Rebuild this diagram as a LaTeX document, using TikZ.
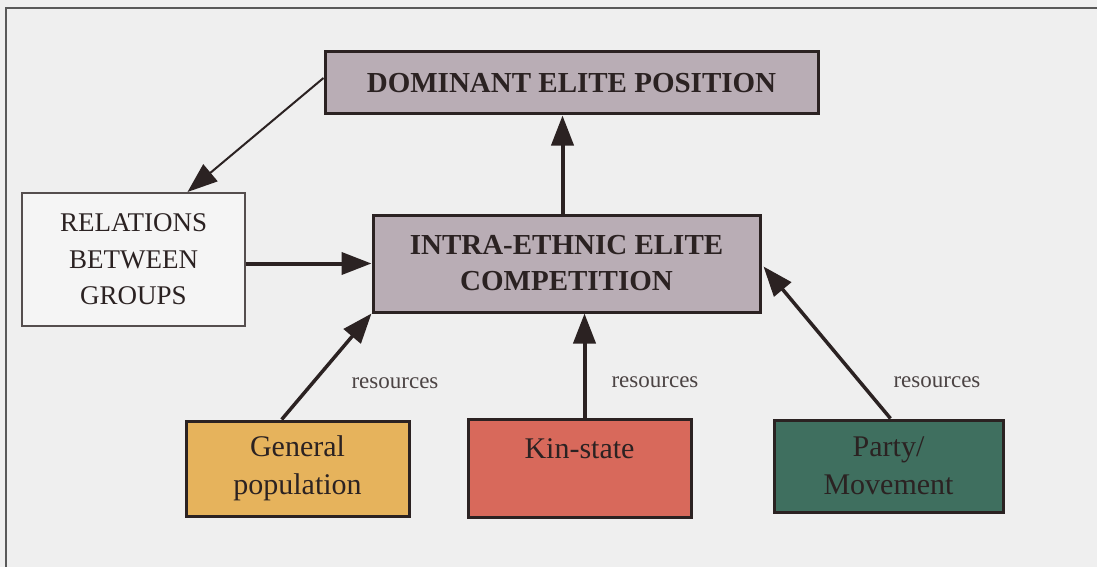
\documentclass[tikz,border=0pt]{standalone}
\usepackage{fontspec}
\setmainfont{Liberation Serif}
\usetikzlibrary{arrows.meta,calc}

\definecolor{bgpaper}{HTML}{EFEFEF}
\definecolor{elitefill}{HTML}{B9ADB5}
\definecolor{relfill}{HTML}{F5F5F5}
\definecolor{popfill}{HTML}{E6B35C}
\definecolor{kinfill}{HTML}{D8695B}
\definecolor{partyfill}{HTML}{3F6F5F}
\definecolor{edge}{HTML}{2B2222}

\begin{document}
\begin{tikzpicture}[x=1pt, y=-1pt,
    elitebox/.style={draw=edge, line width=3pt, fill=elitefill, inner sep=0pt, align=center,
        font=\fontsize{29}{36}\selectfont\bfseries, text=edge},
    srcbox/.style={draw=edge, line width=3pt, inner sep=0pt, align=center,
        font=\fontsize{30}{38}\selectfont, text=edge},
    flow/.style={draw=edge, line width=4pt, -{Triangle[length=30pt,width=22pt]}},
    reslabel/.style={font=\fontsize{23}{27}\selectfont, text=edge!85}]
    % paper and frame
    \fill[bgpaper] (0,0) rectangle (1097,567);
    \useasboundingbox (0,0) rectangle (1097,567);
    \draw[gray!70!black, line width=1.5pt] (6,567) -- (6,8) -- (1097,8);

    % central boxes
    \node[elitebox, minimum width=493, minimum height=62] (dom) at (571.5,83) {DOMINANT ELITE POSITION};
    \node[elitebox, minimum width=387, minimum height=97] (intra) at (566.5,263.5) {INTRA-ETHNIC ELITE\\COMPETITION};
    \node[draw=edge!80, line width=2pt, fill=relfill, inner sep=0pt, align=center, text=edge,
        font=\fontsize{27}{36.5}\selectfont, minimum width=223, minimum height=133] (rel) at (133.5,259.5)
        {RELATIONS\\BETWEEN\\GROUPS};

    % resource boxes
    \node[srcbox, fill=popfill, minimum width=223, minimum height=95] (gen) at (297.5,468.5) {General\\population};
    \node[srcbox, fill=kinfill, minimum width=223, minimum height=98] (kin) at (579.5,468) {Kin-state\\\mbox{}};
    \node[srcbox, fill=partyfill, minimum width=229, minimum height=92] (party) at (888.5,466) {Party/\\Movement};

    % arrows
    \coordinate (kintop) at ($(kin.north)+(5,0)$);
    \draw[flow, line width=2pt] ($(dom.west)+(0,-5)$) -- ($(rel.north west)!0.74!(rel.north east)$);
    \draw[flow] ($(intra.north)+(-4,0)$) -- ($(dom.south)+(-9,0)$);
    \draw[flow] (rel.east |- intra.west) -- (intra.west);
    \draw[flow, line width=3.5pt] ($(gen.north west)!0.43!(gen.north east)$) -- (intra.south west);
    \draw[flow] (kintop) -- (kintop |- intra.south);
    \draw[flow, line width=3.5pt] ($(party.north)+(2,0)$) -- ($(intra.east)+(2,3)$);

    % labels
    \node[reslabel] (res1) at (395,383) {resources};
    \node[reslabel] (res2) at (655,382) {resources};
    \node[reslabel] (res3) at (937,382) {resources};
\end{tikzpicture}
\end{document}
